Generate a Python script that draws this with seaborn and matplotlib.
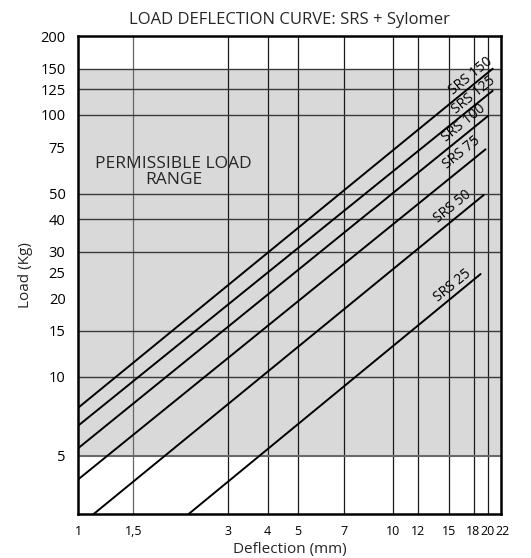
import matplotlib
matplotlib.use("Agg")
import matplotlib.pyplot as plt
import matplotlib.transforms as mtransforms
import seaborn as sns
import pandas as pd

# ---- data (endpoints of each straight log-log line) ----
series = ["SRS 25", "SRS 50", "SRS 75", "SRS 100", "SRS 125", "SRS 150"]
x_start = [2.245, 1.11, 1.0, 1.0, 1.0, 1.0]
y_start = [3.0, 2.97, 4.06, 5.34, 6.51, 7.62]
x_end = [18.95, 19.4, 19.65, 20.0, 20.7, 20.7]
y_end = [24.7, 49.5, 73.9, 99.0, 123.6, 150.0]

# label anchor positions (data coords)
label_x = [15.4, 15.5, 16.5, 16.8, 18.05, 17.6]
label_y = [22.4, 44.5, 71.5, 93.0, 119.0, 141.0]

x_ticks = [1, 1.5, 3, 4, 5, 7, 10, 12, 15, 18, 20, 22]
x_ticklabels = ["1", "1,5", "3", "4", "5", "7", "10", "12", "15", "18", "20", "22"]
x_grid = [1.5, 3, 4, 5, 7, 10, 12, 15, 18, 20]

y_ticks = [5, 10, 15, 20, 25, 30, 40, 50, 75, 100, 125, 150, 200]
y_grid = [10, 15, 30, 40, 50, 100, 125, 150]

band_low, band_high = 5, 150

rows = []
for name, xs, ys, xe, ye in zip(series, x_start, y_start, x_end, y_end):
    rows.append({"series": name, "Deflection": xs, "Load": ys})
    rows.append({"series": name, "Deflection": xe, "Load": ye})
df = pd.DataFrame(rows)

sns.set_style("white")
plt.rcParams["font.family"] = ["Open Sans", "DejaVu Sans"]

fig = plt.figure(figsize=(5.31, 5.58), dpi=100)
ax = fig.add_axes([78 / 531, 1 - 514 / 558, (501 - 78) / 531, (514 - 36) / 558])
ax.set_xscale("log")
ax.set_yscale("log")
ax.set_xlim(1, 22)
ax.set_ylim(3, 200)

ax.axhspan(band_low, band_high, color="#d9d9d9", zorder=0, lw=0)

for v in x_grid:
    c = "#666666" if v == 1.5 else "#1a1a1a"
    ax.axvline(v, color=c, lw=0.9, zorder=1)
for v in y_grid:
    ax.axhline(v, color="#3a3a3a", lw=1.0, zorder=1)
ax.axhline(5, color="#6a6a6a", lw=1.5, zorder=1)

sns.lineplot(data=df, x="Deflection", y="Load", units="series", estimator=None,
             color="black", lw=1.4, legend=False, ax=ax, zorder=3)

for name, lx, ly in zip(series, label_x, label_y):
    ax.text(lx, ly, name, rotation=39, ha="center", va="center",
            fontsize=10, color="black", zorder=4, rotation_mode="anchor")

ax.text(2.01, 60.5, "PERMISSIBLE LOAD\nRANGE", ha="center", va="center",
        fontsize=12.5, linespacing=1.05, zorder=4)

ax.set_xticks(x_ticks)
ax.set_xticklabels(x_ticklabels)
ax.set_xticks(x_grid, minor=True)
ax.set_xticklabels([], minor=True)
ax.set_yticks(y_ticks)
ax.set_yticklabels([str(v) for v in y_ticks])
ax.set_yticks(y_grid + [5], minor=True)
ax.set_yticklabels([], minor=True)

ax.tick_params(axis="both", which="major", length=0, colors="black")
ax.tick_params(axis="x", which="major", pad=8, labelsize=9)
ax.tick_params(axis="y", which="major", pad=9, labelsize=10.5)
ax.tick_params(axis="both", which="minor", length=4, width=0.9, color="#333333", direction="out")
ax.tick_params(left=True, bottom=True, which="minor")

# nudge the crowded right-most x labels apart slightly
shifts = {"18": -1.0, "22": 2.0}
for lab in ax.get_xticklabels():
    s = shifts.get(lab.get_text())
    if s:
        lab.set_transform(lab.get_transform() +
                          mtransforms.ScaledTranslation(s / 100, 0, fig.dpi_scale_trans))

for s in ax.spines.values():
    s.set_visible(True)
    s.set_color("black")
    s.set_linewidth(1.8)

ax.set_xlabel("Deflection (mm)", fontsize=11, labelpad=3)
ax.set_ylabel("Load (Kg)", fontsize=11, labelpad=5)
ax.set_title("LOAD DEFLECTION CURVE: SRS + Sylomer", fontsize=12, pad=9)

fig.savefig("out.png", dpi=100)
